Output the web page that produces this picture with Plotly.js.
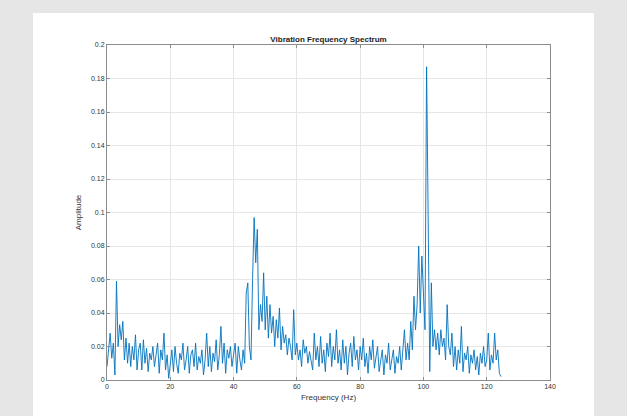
<!DOCTYPE html>
<html>
<head>
<meta charset="utf-8">
<script src="https://cdn.plot.ly/plotly-3.0.1.min.js"></script>
<style>
  html, body { margin: 0; padding: 0; background: #e6e6e6; width: 627px; height: 416px; overflow: hidden; }
  #chart { position: absolute; left: 33px; top: 13px; width: 561px; height: 403px; }
</style>
</head>
<body>
<div id="chart"></div>
<script>
// Frequency resolution 0.5 Hz, starting at 0 Hz
const freqStep = 0.5;
const amplitude = [
  // 0 - 4.5 Hz
  0.008, 0.020, 0.028, 0.013, 0.022, 0.003, 0.059, 0.020, 0.033, 0.024,
  // 5 - 9.5
  0.035, 0.012, 0.025, 0.010, 0.022, 0.008, 0.020, 0.012, 0.027, 0.006,
  // 10 - 14.5
  0.018, 0.022, 0.006, 0.024, 0.010, 0.019, 0.005, 0.016, 0.012, 0.020,
  // 15 - 19.5
  0.008, 0.015, 0.022, 0.004, 0.018, 0.012, 0.028, 0.006, 0.015, 0.001,
  // 20 - 24.5
  0.012, 0.018, 0.005, 0.020, 0.010, 0.004, 0.016, 0.012, 0.022, 0.006,
  // 25 - 29.5
  0.012, 0.020, 0.004, 0.015, 0.018, 0.008, 0.022, 0.006, 0.014, 0.010,
  // 30 - 34.5
  0.018, 0.003, 0.012, 0.028, 0.008, 0.020, 0.005, 0.016, 0.011, 0.024,
  // 35 - 39.5
  0.006, 0.015, 0.032, 0.010, 0.022, 0.004, 0.018, 0.013, 0.020, 0.008,
  // 40 - 44.5
  0.015, 0.022, 0.004, 0.020, 0.012, 0.006, 0.018, 0.010, 0.052, 0.058,
  // 45 - 49.5
  0.020, 0.012, 0.060, 0.097, 0.070, 0.090, 0.030, 0.045, 0.035, 0.064,
  // 50 - 54.5
  0.030, 0.050, 0.025, 0.045, 0.028, 0.038, 0.020, 0.036, 0.025, 0.043,
  // 55 - 59.5
  0.018, 0.032, 0.022, 0.027, 0.015, 0.025, 0.020, 0.012, 0.042, 0.015,
  // 60 - 64.5
  0.022, 0.012, 0.018, 0.008, 0.024, 0.016, 0.020, 0.010, 0.017, 0.012,
  // 65 - 69.5
  0.006, 0.028, 0.012, 0.020, 0.008, 0.026, 0.010, 0.018, 0.005, 0.022,
  // 70 - 74.5
  0.014, 0.028, 0.008, 0.020, 0.012, 0.030, 0.010, 0.018, 0.006, 0.024,
  // 75 - 79.5
  0.010, 0.020, 0.003, 0.016, 0.022, 0.008, 0.026, 0.012, 0.018, 0.006,
  // 80 - 84.5
  0.020, 0.012, 0.025, 0.008, 0.016, 0.004, 0.020, 0.012, 0.024, 0.007,
  // 85 - 89.5
  0.014, 0.020, 0.005, 0.012, 0.018, 0.003, 0.015, 0.010, 0.022, 0.006,
  // 90 - 94.5
  0.012, 0.018, 0.004, 0.014, 0.010, 0.020, 0.006, 0.016, 0.030, 0.012,
  // 95 - 99.5
  0.022, 0.012, 0.035, 0.018, 0.050, 0.030, 0.045, 0.080, 0.040, 0.074,
  // 100 - 104.5
  0.050, 0.030, 0.187, 0.080, 0.005, 0.058, 0.020, 0.030, 0.018, 0.028,
  // 105 - 109.5
  0.015, 0.030, 0.020, 0.025, 0.012, 0.045, 0.020, 0.015, 0.028, 0.008,
  // 110 - 114.5
  0.020, 0.006, 0.018, 0.010, 0.032, 0.005, 0.016, 0.012, 0.020, 0.004,
  // 115 - 119.5
  0.015, 0.010, 0.018, 0.006, 0.014, 0.003, 0.016, 0.010, 0.020, 0.008,
  // 120 - 124.5
  0.012, 0.028, 0.006, 0.015, 0.010, 0.028, 0.012, 0.018, 0.004, 0.002
];
const frequency = amplitude.map((_, i) => i * freqStep);

const xTicks = [0, 20, 40, 60, 80, 100, 120, 140];
const yTicks = [0, 0.02, 0.04, 0.06, 0.08, 0.1, 0.12, 0.14, 0.16, 0.18, 0.2];

const axisCommon = {
  showgrid: true,
  gridcolor: '#e6e6e6',
  gridwidth: 1,
  showline: true,
  linecolor: '#8c8c8c',
  linewidth: 1,
  mirror: 'allticks',
  ticks: 'inside',
  ticklen: 3,
  tickcolor: '#8c8c8c',
  zeroline: false,
  tickfont: { family: 'Liberation Sans, Arial, sans-serif', size: 7, color: '#333333' }
};

const trace = {
  x: frequency,
  y: amplitude,
  type: 'scatter',
  mode: 'lines',
  line: { color: '#0072BD', width: 0.9 },
  hoverinfo: 'skip'
};

const layout = {
  width: 561,
  height: 403,
  paper_bgcolor: '#ffffff',
  plot_bgcolor: '#ffffff',
  margin: { l: 74, r: 44, t: 32, b: 36 },
  showlegend: false,
  title: {
    text: '<b>Vibration Frequency Spectrum</b>',
    font: { family: 'Liberation Sans, Arial, sans-serif', size: 8, color: '#1a1a1a' },
    x: 0.5, xanchor: 'center', xref: 'paper',
    y: 1, yref: 'paper', yanchor: 'bottom', pad: { b: 3 }
  },
  xaxis: Object.assign({}, axisCommon, {
    range: [0, 140],
    tickvals: xTicks,
    ticktext: xTicks.map(String),
    title: { text: 'Frequency (Hz)', font: { family: 'Liberation Sans, Arial, sans-serif', size: 8, color: '#333333' }, standoff: 4 }
  }),
  yaxis: Object.assign({}, axisCommon, {
    range: [0, 0.2],
    tickvals: yTicks,
    ticktext: yTicks.map(String),
    title: { text: 'Amplitude', font: { family: 'Liberation Sans, Arial, sans-serif', size: 8, color: '#333333' }, standoff: 8 }
  })
};

Plotly.newPlot('chart', [trace], layout, { displayModeBar: false, staticPlot: true });
</script>
</body>
</html>
